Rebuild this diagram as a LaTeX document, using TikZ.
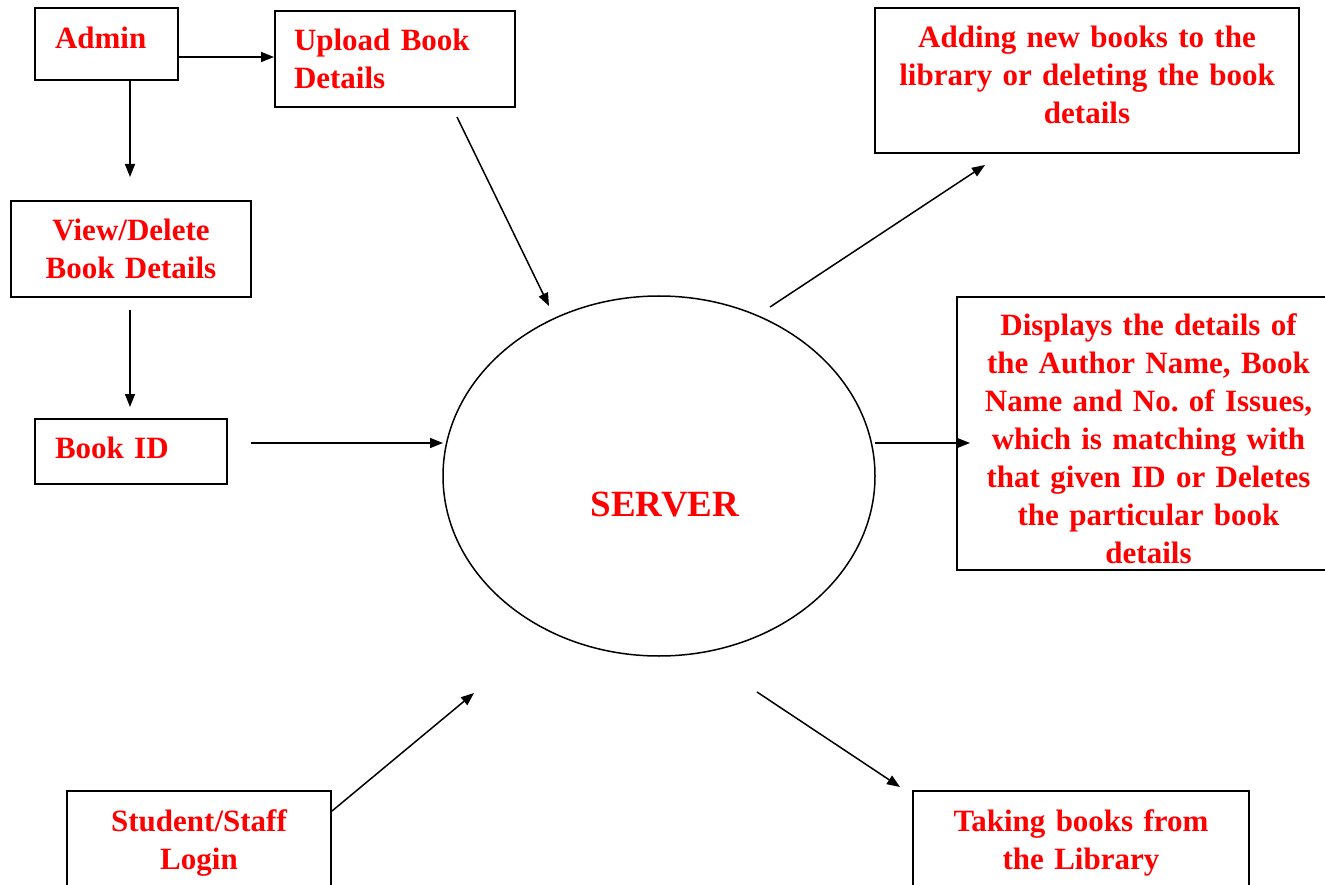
\documentclass[tikz,border=0pt]{standalone}
\usepackage{fontspec}
\setmainfont{Liberation Serif}
\usetikzlibrary{arrows.meta,shapes.geometric}
\frenchspacing

\begin{document}
\begin{tikzpicture}[x=1pt, y=-1pt,
        box/.style={draw, line width=2pt, inner sep=0pt, text=red,
          font=\fontsize{31}{38}\selectfont\bfseries, align=center},
        link/.style={line width=1.5pt, -{Triangle[length=13pt, width=10pt]}}]
        \useasboundingbox (0,0) rectangle (1325,885);
        % boxes
        \node[box, align=left, inner xsep=20pt, text width=103pt, minimum height=72pt, text depth=13pt] (admin) at (106.5,44) {Admin};
        \node[box, align=left, inner xsep=19pt, text width=202pt, minimum height=96pt] (upload) at (395,59) {Upload Book\\Details};
        \node[box, text width=424pt, minimum height=145pt] (adding) at (1087,80.5) {Adding new books to the\\library or deleting the book\\details\par\vspace{12pt}};
        \node[box, text width=240pt, minimum height=96pt] (view) at (131,249) {View/Delete\\Book Details};
        \node[box, align=left, inner xsep=20pt, text width=152pt, minimum height=65pt, text depth=7pt] (bookid) at (131,451.5) {Book ID};
        \node[box, text width=383pt, minimum height=273pt] (displays) at (1148.5,433.5) {\rule{0pt}{33pt}Displays the details of\\the Author Name, Book\\Name and No. of Issues,\\which is matching with\\that given ID or Deletes\\the particular book\\details};
        \node[box, text width=264pt, minimum height=98pt] (student) at (199,840) {\rule{0pt}{27.5pt}Student/Staff\\Login};
        \node[box, text width=336pt, minimum height=98pt] (taking) at (1081,840) {\rule{0pt}{27.5pt}Taking books from\\the Library};
        % server
        \node[draw, ellipse, line width=1.5pt, inner sep=0pt, minimum width=432pt, minimum height=360pt,
          text=red, font=\fontsize{37}{44}\selectfont\bfseries, text height=82pt] (server) at (659,476) {\hspace*{12pt}SERVER};
        % free ends of the connectors
        \coordinate (y57) at (0,57);
        \coordinate (x130) at (130,0);
        \coordinate (admin-v) at (130,177);
        \coordinate (upload-s) at (457,117);
        \coordinate (server-n) at (549,306);
        \coordinate (view-s) at (130,310);
        \coordinate (bookid-n) at (130,407);
        \coordinate (bookid-e) at (251,443);
        \coordinate (server-w) at (443,443);
        \coordinate (server-ne) at (770,307);
        \coordinate (adding-s) at (985,165);
        \coordinate (server-e) at (875,443);
        \coordinate (displays-w) at (970,443);
        \coordinate (y811) at (0,811);
        \coordinate (server-sw) at (474,693);
        \coordinate (server-se) at (757,692);
        \coordinate (taking-n) at (900,787);
        % connectors
        \draw[link] (admin.east |- y57) -- (upload.west |- y57);
        \draw[link] (admin.south -| x130) -- (admin-v);
        \draw[link] (student.east |- y811) -- (server-sw);
        \foreach \a\b in {upload-s/server-n, view-s/bookid-n, bookid-e/server-w,
          server-ne/adding-s, server-e/displays-w, server-se/taking-n} {
          \draw[link] (\a) -- (\b);
        };
      \end{tikzpicture}
\end{document}
